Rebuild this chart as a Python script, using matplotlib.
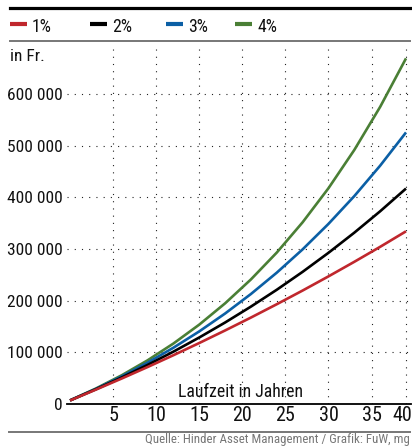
import matplotlib
matplotlib.use("Agg")
import matplotlib.pyplot as plt
from matplotlib.lines import Line2D
from matplotlib.transforms import ScaledTranslation

plt.rcParams['font.family'] = ['Liberation Sans Narrow', 'Roboto Condensed', 'Liberation Sans', 'DejaVu Sans']

# Savings balance (CHF) by year of the investment period
years = [1, 4, 7, 10, 13, 16, 19, 22, 25, 28, 31, 34, 37, 40]
bal_1 = [6800, 27800, 49300, 71500, 94400, 118000, 142300, 167300, 193100, 219600, 247000, 275200, 304200, 334200]
bal_2 = [6900, 28500, 51300, 75600, 101300, 128700, 157700, 188500, 221100, 255800, 292600, 331600, 373000, 417000]
bal_3 = [7000, 29200, 53400, 79900, 108900, 140500, 175100, 212900, 254200, 299300, 348600, 402400, 461300, 525600]
bal_4 = [7000, 29900, 55600, 84500, 117000, 153600, 194800, 241100, 293100, 351700, 417600, 491700, 575100, 668900]

series_labels = ['1%', '2%', '3%', '4%']
series_values = [bal_1, bal_2, bal_3, bal_4]
series_colors = ['#c0272d', '#000000', '#0b5fa5', '#4a7f35']

y_ticks = [0, 100000, 200000, 300000, 400000, 500000, 600000]
y_tick_labels = ['0', '100 000', '200 000', '300 000', '400 000', '500 000', '600 000']
x_tick_pos = [5, 10, 15, 20, 25, 30, 35, 39]
x_tick_labels = ['5', '10', '15', '20', '25', '30', '35', '40']

W, H = 412, 447
fig = plt.figure(figsize=(W / 100, H / 100), dpi=100)


def fx(px):
    return px / W


def fy(py):
    return 1 - py / H


ax = fig.add_axes([fx(67), fy(404), fx(411) - fx(67), fy(45) - fy(404)])

# positions along the axis: one slot per year, first year at 0
pos = [y - years[0] for y in years]

dots = (0, (1, 5.5))
for yv in y_ticks[1:]:
    ax.axhline(yv, color='#222222', lw=0.8, linestyle=dots, zorder=1)
for xv in x_tick_pos:
    ax.axvline(xv, color='#222222', lw=0.8, linestyle=dots, zorder=1)

for vals, col in list(zip(series_values, series_colors))[::-1]:
    ax.plot(pos, vals, color=col, lw=1.9, solid_capstyle='butt', zorder=3)

ax.set_xlim(-0.35, 39.58)
ax.set_ylim(0, 694800)
for s in ['top', 'right', 'left']:
    ax.spines[s].set_visible(False)
ax.spines['bottom'].set_linewidth(1.3)
ax.spines['bottom'].set_zorder(4)
ax.set_yticks(y_ticks)
ax.set_yticklabels(y_tick_labels)
ax.set_xticks(x_tick_pos)
ax.set_xticklabels(x_tick_labels)
ax.tick_params(axis='both', length=0, colors='#111111')
ax.tick_params(axis='y', pad=3, labelsize=12.5)
ax.tick_params(axis='x', pad=1.5, labelsize=14.5)

# keep the last year label inside the frame
last = ax.get_xticklabels()[-1]
last.set_transform(last.get_transform() + ScaledTranslation(-4 / 100, 0, fig.dpi_scale_trans))

ax.text(fx(241), fy(397), 'Laufzeit in Jahren', transform=fig.transFigure,
        ha='center', va='baseline', fontsize=12.8, color='#111111')
fig.text(fx(10), fy(61), 'in Fr.', ha='left', va='baseline', fontsize=12.5, color='#111111')

# rules at the top and bottom
fig.add_artist(Line2D([fx(10), fx(410)], [fy(8.3), fy(8.3)], color='#000000', lw=2.3))
fig.add_artist(Line2D([fx(10), fx(410)], [fy(41), fy(41)], color='#777777', lw=1.4))
fig.add_artist(Line2D([fx(9), fx(410)], [fy(432), fy(432)], color='#777777', lw=1.4))

# legend
handle_x = [10, 90, 166, 235]
for hx, lab, col in zip(handle_x, series_labels, series_colors):
    fig.add_artist(Line2D([fx(hx), fx(hx + 17)], [fy(23.7), fy(23.7)], color=col, lw=3,
                          solid_capstyle='butt'))
    fig.text(fx(hx + 22), fy(31.5), lab, ha='left', va='baseline', fontsize=12.8,
             color='#111111')

fig.text(fx(410), fy(446.5), 'Quelle: Hinder Asset Management / Grafik: FuW, mg',
         ha='right', va='bottom', fontsize=9.3, color='#777777')

fig.savefig('out.png', dpi=100)
